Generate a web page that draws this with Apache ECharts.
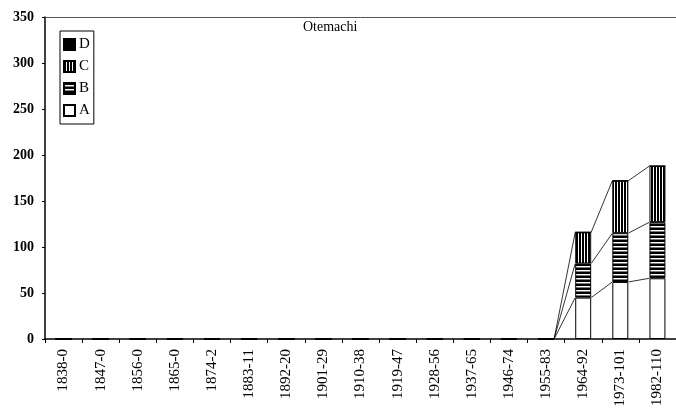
<!DOCTYPE html>
<html>
<head>
<meta charset="utf-8">
<script src="https://cdn.jsdelivr.net/npm/echarts@6/dist/echarts.min.js"></script>
<style>html,body{margin:0;padding:0;background:#fff;}#c{width:676px;height:419px;}</style>
</head>
<body>
<div id="c"></div>
<script>
const categories = ['1838-0','1847-0','1856-0','1865-0','1874-2','1883-11','1892-20','1901-29','1910-38','1919-47','1928-56','1937-65','1946-74','1955-83','1964-92','1973-101','1982-110'];
const seriesA = [0,0,0,0,0,0,0,0,0,0,0,0,0,0,45,62,66];
const seriesB = [0,0,0,0,0,0,0,0,0,0,0,0,0,0,37,53,61];
const seriesC = [0,0,0,0,0,0,0,0,0,0,0,0,0,0,34,57,61];
const seriesD = [0,0,0,0,0,0,0,0,0,0,0,0,0,0,0,0,0];
const yTicks = [0,50,100,150,200,250,300,350];

function makePattern(w, h, draw) {
  const cv = document.createElement('canvas');
  cv.width = w; cv.height = h;
  const ctx = cv.getContext('2d');
  ctx.fillStyle = '#fff'; ctx.fillRect(0,0,w,h);
  ctx.fillStyle = '#000';
  draw(ctx);
  return {image: cv, repeat: 'repeat'};
}
const patB = makePattern(1, 4, ctx => { ctx.fillRect(0,0,1,2); ctx.fillStyle = '#777'; ctx.fillRect(0,3,1,1); });
const patC = makePattern(3, 1, ctx => { ctx.fillRect(0,0,2,1); });

const FONT = '"Liberation Serif", "DejaVu Serif", serif';
const BAR_W = '43%';

// cumulative tops for series lines
const cum = categories.map((_, i) => {
  const a = seriesA[i], b = a + seriesB[i], c = b + seriesC[i], d = c + seriesD[i];
  return [a, b, c, d];
});
const lineData = [];
for (let i = 0; i < categories.length - 1; i++) {
  lineData.push([i].concat(cum[i], cum[i + 1]));
}

const chart = echarts.init(document.getElementById('c'), null, {renderer: 'canvas'});
const barCommon = {type: 'bar', stack: 'total', barWidth: BAR_W, xAxisIndex: 0};
chart.setOption({
  animation: false,
  title: {text: 'Otemachi', left: 298, top: 15,
    textStyle: {fontFamily: FONT, fontSize: 14, fontWeight: 'normal', color: '#000'}},
  legend: {
    orient: 'vertical', left: 60, top: 31,
    data: ['D','C','B','A'],
    icon: 'rect',
    itemWidth: 11, itemHeight: 11, itemGap: 7,
    borderColor: '#000', borderWidth: 1, padding: [6, 4, 6, 3],
    textStyle: {fontFamily: FONT, fontSize: 15, color: '#000', padding: [0,0,0,-1]}
  },
  grid: {left: 45, right: -5, top: 17, bottom: 80},
  xAxis: [{
    type: 'category', data: categories, position: 'bottom',
    axisLine: {lineStyle: {color: '#000', width: 1.5}},
    axisTick: {show: true, length: 4, lineStyle: {color: '#000'}},
    axisLabel: {rotate: 90, margin: 10, fontFamily: FONT, fontSize: 15, color: '#000'}
  }, {
    type: 'category', data: categories, position: 'top',
    axisLine: {lineStyle: {color: '#555', width: 1}},
    axisTick: {show: false}, axisLabel: {show: false}
  }],
  yAxis: {
    type: 'value', min: 0, max: 350, interval: 50,
    axisLine: {show: true, lineStyle: {color: '#000', width: 1.5}},
    axisTick: {show: true, length: 3, lineStyle: {color: '#000'}},
    splitLine: {show: false},
    axisLabel: {margin: 11, fontFamily: FONT, fontSize: 14, fontWeight: 'bold', color: '#000',
      formatter: v => yTicks.includes(v) ? String(v) : ''}
  },
  series: [
    Object.assign({}, barCommon, {name: 'A', data: seriesA,
      itemStyle: {color: '#fff', borderColor: '#000', borderWidth: 1}}),
    Object.assign({}, barCommon, {name: 'B', data: seriesB,
      itemStyle: {color: patB, borderColor: '#000', borderWidth: 1}}),
    Object.assign({}, barCommon, {name: 'C', data: seriesC,
      itemStyle: {color: patC, borderColor: '#000', borderWidth: 1}}),
    Object.assign({}, barCommon, {name: 'D', data: seriesD,
      itemStyle: {color: '#000', borderColor: '#000', borderWidth: 1}}),
    {
      type: 'custom', name: 'serieslines', silent: true, z: 5,
      data: lineData,
      encode: {x: 0, y: [1,2,3,4,5,6,7,8]},
      renderItem: function (params, api) {
        const i = api.value(0);
        const half = api.size([1, 0])[0] * 0.43 / 2;
        const children = [];
        for (let k = 0; k < 3; k++) {
          const v0 = api.value(1 + k), v1 = api.value(5 + k);
          if (v0 === 0 && v1 === 0) continue;
          const p0 = api.coord([i, v0]);
          const p1 = api.coord([i + 1, v1]);
          children.push({type: 'line',
            shape: {x1: p0[0] + half, y1: p0[1], x2: p1[0] - half, y2: p1[1]},
            style: {stroke: '#000', lineWidth: 0.8}});
        }
        return {type: 'group', children: children};
      }
    }
  ]
});
</script>
</body>
</html>
